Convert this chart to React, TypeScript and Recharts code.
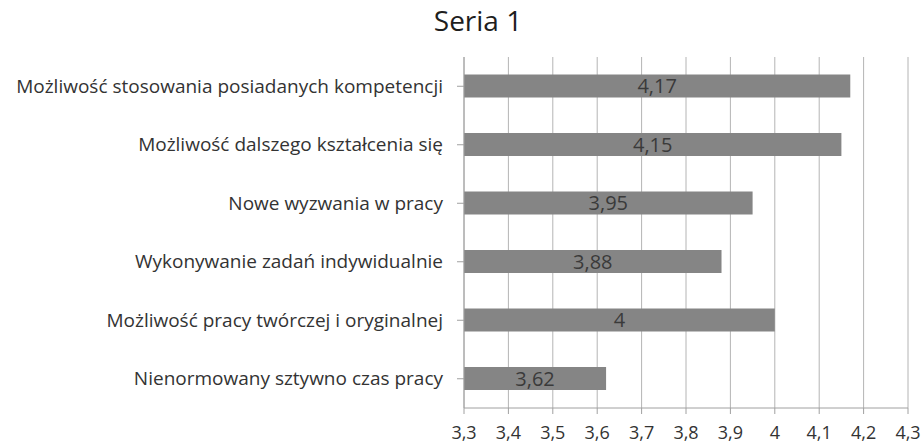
import React from 'react';
import { BarChart, Bar, XAxis, YAxis, CartesianGrid, LabelList } from 'recharts';

const categories = [
  'Możliwość stosowania posiadanych kompetencji',
  'Możliwość dalszego kształcenia się',
  'Nowe wyzwania w pracy',
  'Wykonywanie zadań indywidualnie',
  'Możliwość pracy twórczej i oryginalnej',
  'Nienormowany sztywno czas pracy',
];
const values = [4.17, 4.15, 3.95, 3.88, 4, 3.62];
const xTicks = [3.3, 3.4, 3.5, 3.6, 3.7, 3.8, 3.9, 4, 4.1, 4.2, 4.3];

const data = categories.map((name, i) => ({ name, value: values[i] }));

// Polish decimal comma
const fmt = (v: number) => String(v).replace('.', ',');

const FONT = '"Open Sans", sans-serif';

export default function App() {
  return (
    <div style={{ position: 'absolute', left: 0, top: 0, width: 924, height: 447, background: '#fff', fontFamily: FONT }}>
      <div
        style={{
          position: 'absolute',
          left: 378,
          top: 1,
          width: 200,
          textAlign: 'center',
          fontSize: 28,
          color: '#1e1e1e',
        }}
      >
        Seria 1
      </div>
      <BarChart
        width={924}
        height={447}
        data={data}
        layout="vertical"
        margin={{ top: 57, right: 16, bottom: 4, left: 0 }}
        barCategoryGap="30%"
      >
        <CartesianGrid horizontal={false} stroke="#b4b4b4" />
        <XAxis
          type="number"
          domain={[3.3, 4.3]}
          ticks={xTicks}
          tickFormatter={fmt}
          allowDataOverflow
          height={35}
          tickSize={6}
          tickMargin={12}
          stroke="#a0a0a0"
          tick={{ fill: '#333', fontSize: 18, fontFamily: FONT }}
        />
        <YAxis
          type="category"
          dataKey="name"
          width={464}
          tickSize={7}
          tickMargin={14}
          stroke="#a0a0a0"
          tick={{ fill: '#333', fontSize: 19, fontFamily: FONT }}
        />
        <Bar dataKey="value" fill="#858585" isAnimationActive={false}>
          <LabelList
            dataKey="value"
            position="center"
            formatter={(v: any) => fmt(Number(v))}
            style={{ fill: '#3a3a3a', fontSize: 20, fontFamily: FONT }}
          />
        </Bar>
      </BarChart>
    </div>
  );
}
